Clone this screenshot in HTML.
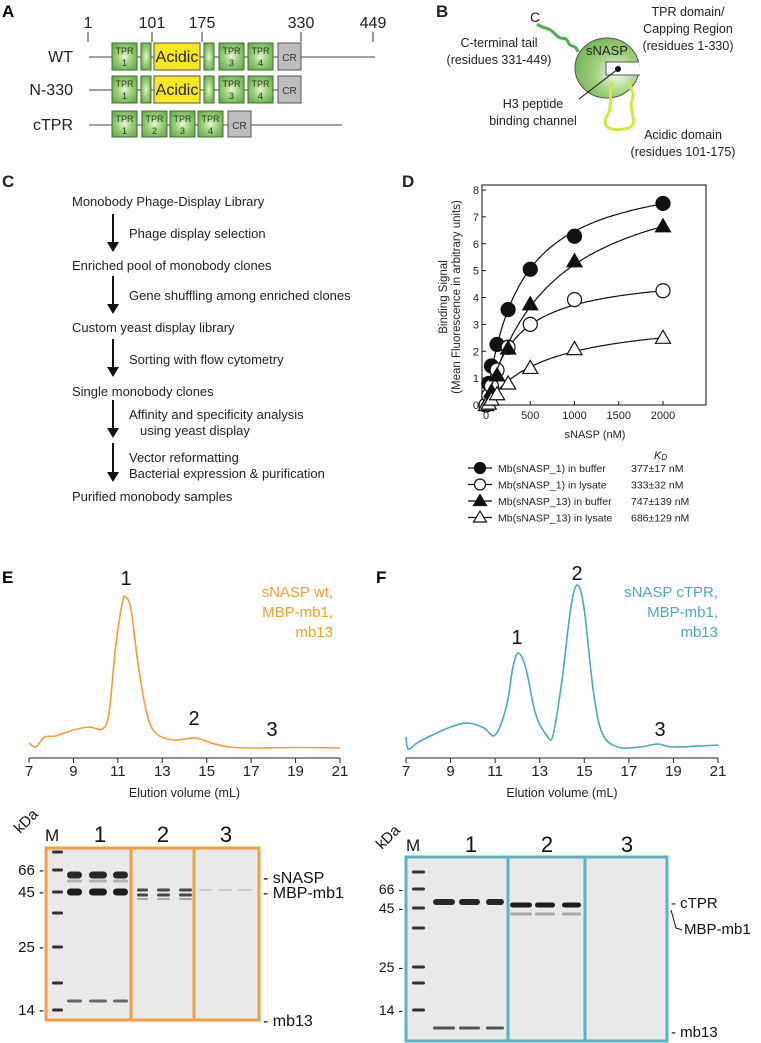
<!DOCTYPE html>
<html><head><meta charset="utf-8">
<style>
html,body{margin:0;padding:0;background:#fff;}
svg{display:block;font-family:"Liberation Sans",sans-serif;}
</style></head>
<body>
<svg id="fig" width="761" height="1043" viewBox="0 0 761 1043" xmlns="http://www.w3.org/2000/svg">
<defs>
<radialGradient id="gTpr" cx="0.5" cy="0.5" r="0.6"><stop offset="0" stop-color="#e8f5d8"/><stop offset="0.5" stop-color="#9ccf7a"/><stop offset="1" stop-color="#6aae4e"/></radialGradient>
<radialGradient id="gBall" cx="0.65" cy="0.6" r="0.7"><stop offset="0" stop-color="#f4faee"/><stop offset="0.5" stop-color="#9fd07c"/><stop offset="1" stop-color="#72b356"/></radialGradient>
</defs>

<!-- Panel A -->
<g font-size="15">
<text x="2" y="17" font-weight="bold" font-size="17">A</text>
<g stroke="#333" stroke-width="1">
<line x1="88" y1="32" x2="88" y2="42"/><line x1="152" y1="32" x2="152" y2="42"/><line x1="202" y1="32" x2="202" y2="42"/><line x1="301" y1="32" x2="301" y2="42"/><line x1="373" y1="32" x2="373" y2="42"/>
</g>
<g font-size="16" text-anchor="middle" fill="#222">
<text x="88" y="28">1</text><text x="152" y="28">101</text><text x="202" y="28">175</text><text x="301" y="28">330</text><text x="373" y="28">449</text>
</g>
<g text-anchor="end" font-size="16" fill="#222">
<text x="73" y="62">WT</text>
<text x="73" y="95">N-330</text>
<text x="73" y="130">cTPR</text>
</g>
<g stroke="#444" stroke-width="1">
<line x1="89" y1="57" x2="375" y2="57"/><line x1="89" y1="90" x2="278" y2="90"/><line x1="89" y1="125" x2="342" y2="125"/>
</g>
<g id="domains"></g>
</g>

<!-- Panel B -->
<g font-size="12.5" fill="#222">
<text x="436" y="17" font-weight="bold" font-size="17">B</text>
<text x="530" y="22" font-size="14">C</text>
<path d="M537 24 C545 30,548 26,555 34 S565 35,568 42 S575 43,578 52" fill="none" stroke="#4caf50" stroke-width="3"/>
<ellipse cx="607" cy="68" rx="32" ry="30" fill="url(#gBall)" stroke="#555" stroke-width="1"/>
<path d="M639 62 L606 62 L606 75 L640 75" fill="#fff" stroke="#555" stroke-width="1"/>
<circle cx="618" cy="69" r="3" fill="#111"/>
<line x1="618" y1="69" x2="579" y2="99" stroke="#111" stroke-width="1"/>
<path d="M612 82 C608 95,614 105,606 118 C602 128,612 132,628 128 C640 125,628 110,632 100 C636 92,628 88,630 82" fill="none" stroke="#d4e83a" stroke-width="3"/>
<text x="607" y="55" text-anchor="middle" font-size="13">sNASP</text>
<g text-anchor="middle">
<text x="499" y="47">C-terminal tail</text><text x="499" y="64">(residues 331-449)</text>
<text x="688" y="16">TPR domain/</text><text x="688" y="33">Capping Region</text><text x="688" y="50">(residues 1-330)</text>
<text x="533" y="108">H3 peptide</text><text x="533" y="125">binding channel</text>
<text x="683" y="139">Acidic domain</text><text x="683" y="156">(residues 101-175)</text>
</g>
</g>

<!-- Panel C -->
<g font-size="13" fill="#222">
<text x="2" y="187" font-weight="bold" font-size="17">C</text>
<g id="flow"></g>
</g>

<!-- Panel D -->
<g fill="#222">
<text x="402" y="187" font-weight="bold" font-size="17">D</text>
<rect x="482" y="185" width="224" height="220" fill="none" stroke="#111" stroke-width="1"/>
<g id="dAxes" font-size="11"></g>
<g id="dSeries"></g>
<text x="595" y="438" text-anchor="middle" font-size="11">sNASP (nM)</text>
<text transform="translate(447,297) rotate(-90)" text-anchor="middle" font-size="11.5">Binding Signal</text>
<text transform="translate(460,297) rotate(-90)" text-anchor="middle" font-size="11.5">(Mean Fluorescence  in arbitrary units)</text>
<text x="654" y="459" font-size="11" font-style="italic">K<tspan font-size="8" dy="1">D</tspan></text>
<g id="dLegend" font-size="10.5"></g>
</g>

<!-- Panel E chromatogram -->
<g>
<text x="2" y="583" font-weight="bold" font-size="17">E</text>
<g id="eChart"></g>
<g text-anchor="end" fill="#f0a030" font-size="15">
<text x="333" y="597">sNASP wt,</text><text x="333" y="617">MBP-mb1,</text><text x="333" y="637">mb13</text>
</g>
<g font-size="20" text-anchor="middle" fill="#111">
<text x="126" y="585">1</text><text x="194" y="725">2</text><text x="272" y="736">3</text>
</g>
</g>

<!-- Panel F chromatogram -->
<g>
<text x="376" y="583" font-weight="bold" font-size="17">F</text>
<g id="fChart"></g>
<g text-anchor="end" fill="#4aaab8" font-size="15">
<text x="718" y="597">sNASP cTPR,</text><text x="718" y="617">MBP-mb1,</text><text x="718" y="637">mb13</text>
</g>
<g font-size="20" text-anchor="middle" fill="#111">
<text x="517" y="644">1</text><text x="577" y="580">2</text><text x="660" y="736">3</text>
</g>
</g>

<!-- Gel E -->
<g font-size="14" fill="#111">
<text transform="translate(20,834) rotate(-45)" font-size="15">kDa</text>
<text x="45" y="841" font-size="17">M</text>
<text x="100" y="842" font-size="22" text-anchor="middle">1</text><text x="163" y="842" font-size="22" text-anchor="middle">2</text><text x="226" y="842" font-size="22" text-anchor="middle">3</text>
<rect x="46" y="848" width="213" height="172" fill="#e9e9e9"/>
<g id="gelE"></g>
<rect x="46" y="848" width="213" height="172" fill="none" stroke="#f0a040" stroke-width="3"/>
<line x1="131" y1="848" x2="131" y2="1020" stroke="#f0a040" stroke-width="3"/>
<line x1="194" y1="848" x2="194" y2="1020" stroke="#f0a040" stroke-width="3"/>
<g text-anchor="end" font-size="15"><text x="44" y="875">66 -</text><text x="44" y="897">45 -</text><text x="44" y="952">25 -</text><text x="44" y="1015">14 -</text></g>
<g font-size="16"><text x="263" y="883">- sNASP</text><text x="263" y="898">- MBP-mb1</text><text x="263" y="1026">- mb13</text></g>
</g>

<!-- Gel F -->
<g font-size="14" fill="#111">
<text transform="translate(382,850) rotate(-45)" font-size="15">kDa</text>
<text x="406" y="851" font-size="17">M</text>
<text x="471" y="852" font-size="22" text-anchor="middle">1</text><text x="547" y="852" font-size="22" text-anchor="middle">2</text><text x="627" y="852" font-size="22" text-anchor="middle">3</text>
<rect x="406" y="857" width="261" height="184" fill="#e9e9e9"/>
<g id="gelF"></g>
<rect x="406" y="857" width="261" height="184" fill="none" stroke="#5ab4c4" stroke-width="3"/>
<line x1="508" y1="857" x2="508" y2="1041" stroke="#5ab4c4" stroke-width="3"/>
<line x1="585" y1="857" x2="585" y2="1041" stroke="#5ab4c4" stroke-width="3"/>
<g text-anchor="end"><text x="403" y="894">66 -</text><text x="403" y="913">45 -</text><text x="403" y="972">25 -</text><text x="403" y="1015">14 -</text></g>
<g font-size="15"><text x="671" y="908">- cTPR</text>
<polyline points="671,910 676,928 682,930" fill="none" stroke="#111" stroke-width="1"/>
<text x="684" y="934">MBP-mb1</text>
<text x="671" y="1037">- mb13</text></g>
</g>
</svg>

<script>
// ---- Panel D data ----
const conc = [0, 31, 62, 125, 250, 500, 1000, 2000];
const buf1 = [0, 0.8, 1.45, 2.25, 3.55, 5.05, 6.28, 7.5];
const lys1 = [0, 0.35, 0.7, 1.3, 2.15, 3.0, 3.92, 4.25];
const buf13 = [0, 0.2, 0.5, 1.1, 2.1, 3.75, 5.35, 6.65];
const lys13 = [0, 0.05, 0.2, 0.4, 0.8, 1.38, 2.08, 2.5];
const kdValues = [377, 333, 747, 686];
const bmaxValues = [8.9, 4.96, 9.13, 3.36];
const seriesNames = ["Mb(sNASP_1) in buffer", "Mb(sNASP_1) in lysate", "Mb(sNASP_13) in buffer", "Mb(sNASP_13) in lysate"];
const kdLabels = ["377\u00b117 nM", "333\u00b132 nM", "747\u00b1139 nM", "686\u00b1129 nM"];
const xTicksD = [0, 500, 1000, 1500, 2000];
const yTicksD = [0, 1, 2, 3, 4, 5, 6, 7, 8];

// ---- Chromatogram data (volume mL, absorbance arbitrary) ----
const eVol = [7.0, 7.3, 7.7, 8.2, 9.0, 9.7, 10.3, 10.6, 10.9, 11.2, 11.35, 11.6, 11.9, 12.3, 12.7, 13.5, 14.5, 15.2, 16, 17, 19, 21];
const eAbs = [5, 1, 11, 12, 18, 21, 19, 35, 101, 145, 151, 138, 85, 35, 15, 8, 10, 5, 1, 0, 0.5, 0];
const fVol = [7.0, 7.1, 7.5, 8, 9, 9.8, 10.5, 11, 11.5, 11.8, 12.05, 12.4, 12.8, 13.3, 13.6, 14, 14.4, 14.7, 15, 15.4, 15.8, 16.5, 17.5, 18.3, 19, 21];
const fAbs = [12, 0, 6, 12, 22, 26, 21, 14, 42, 82, 96, 79, 36, 14, 14, 69, 142, 164, 139, 59, 16, 2, 2, 5, 2, 4];
const volTicks = [7, 9, 11, 13, 15, 17, 19, 21];

const NS = "http://www.w3.org/2000/svg";
function mk(tag, attrs, parent) {
  const el = document.createElementNS(NS, tag);
  for (const k in attrs) el.setAttribute(k, attrs[k]);
  if (parent) parent.appendChild(el);
  return el;
}

// ---- Panel A domains ----
(function(){
  const g = document.getElementById('domains');
  const rows = [
    {y:43, h:27, boxes:[["tpr",112,25,"1"],["s",141,10],["acid",154,46],["s",204,10],["tpr",219,25,"3"],["tpr",248,25,"4"],["cr",278,23]]},
    {y:76, h:27, boxes:[["tpr",112,25,"1"],["s",141,10],["acid",154,46],["s",204,10],["tpr",219,25,"3"],["tpr",248,25,"4"],["cr",278,23]]},
    {y:111, h:26, boxes:[["tpr",112,25,"1"],["tpr",142,25,"2"],["tpr",170,25,"3"],["tpr",198,25,"4"],["cr",228,23]]}
  ];
  rows.forEach(r => r.boxes.forEach(b => {
    const t=b[0], x=b[1], w=b[2];
    if (t==="tpr"||t==="s") {
      const rc = mk('rect',{x:x,y:r.y,width:w,height:r.h,fill:'url(#gTpr)',stroke:'#3f6e2e','stroke-width':1},g);
      
      
      if (t==="tpr") {
        const a = mk('text',{x:x+w/2,y:r.y+11,'text-anchor':'middle','font-size':9,fill:'#1a3a10'},g); a.textContent='TPR';
        const b2 = mk('text',{x:x+w/2,y:r.y+23,'text-anchor':'middle','font-size':9,fill:'#1a3a10'},g); b2.textContent=b[3];
      }
    } else if (t==="acid") {
      const rc = mk('rect',{x:x,y:r.y,width:w,height:r.h,fill:'#f6e81e',stroke:'#555','stroke-width':1},g);
      
      
      const tx = mk('text',{x:x+w/2,y:r.y+19,'text-anchor':'middle','font-size':16,fill:'#222'},g); tx.textContent='Acidic';
    } else {
      const rc = mk('rect',{x:x,y:r.y,width:w,height:r.h,fill:'#bdbdbd',stroke:'#555','stroke-width':1},g);
      
      
      const tx = mk('text',{x:x+w/2,y:r.y+18,'text-anchor':'middle','font-size':10,fill:'#333'},g); tx.textContent='CR';
    }
  }));
})();

// ---- Panel C flow ----
(function(){
  const g = document.getElementById('flow');
  const steps = [["Monobody Phage-Display Library",206],["Enriched pool of monobody clones",270],["Custom yeast display library",332],["Single monobody clones",396],["Purified monobody samples",501]];
  steps.forEach(s => { const t = mk('text',{x:72,y:s[1]},g); t.textContent=s[0];
      });
  const notes = [["Phage display selection",129,238],["Gene shuffling among enriched clones",129,300],["Sorting with flow cytometry",129,364],["Affinity and specificity analysis",129,419],["using yeast display",140,435],["Vector reformatting",129,462],["Bacterial expression & purification",129,478]];
  notes.forEach(n => { const t = mk('text',{x:n[1],y:n[2]},g); t.textContent=n[0]; });
  const arrows = [[214,252],[276,314],[339,377],[400,438],[443,482]];
  arrows.forEach(a => {
    const l = mk('line',{x1:113,y1:a[0],x2:113,y2:a[1]-8,stroke:'#111','stroke-width':2},g);
     
    mk('path',{d:`M107 ${a[1]-10} L119 ${a[1]-10} L113 ${a[1]} Z`,fill:'#111'},g);
  });
})();

// ---- Panel D chart ----
(function(){
  const X = v => 486 + v * (663 - 486) / 2000;
  const Y = v => 405 - v * (405 - 190) / 8;
  const ax = document.getElementById('dAxes');
  xTicksD.forEach(t => { mk('line',{x1:X(t),y1:405,x2:X(t),y2:401,stroke:'#111'},ax);
    const tx = mk('text',{x:X(t),y:419,'text-anchor':'middle'},ax); tx.textContent=t;
      });
  yTicksD.forEach(t => { mk('line',{x1:482,y1:Y(t),x2:486,y2:Y(t),stroke:'#111'},ax);
    const tx = mk('text',{x:479,y:Y(t)+4,'text-anchor':'end'},ax); tx.textContent=t;
      });
  const gs = document.getElementById('dSeries');
  const all = [buf1, lys1, buf13, lys13];
  const kinds = [['circle',true],['circle',false],['tri',true],['tri',false]];
  function marker(g, kind, fill, x, y, s) {
    let el;
    if (kind==='circle') el = mk('circle',{cx:x,cy:y,r:s,fill:fill?'#111':'#fff',stroke:'#111','stroke-width':1.2},g);
    else el = mk('path',{d:`M${x} ${y-s-1} L${x+s+1} ${y+s-1} L${x-s-1} ${y+s-1} Z`,fill:fill?'#111':'#fff',stroke:'#111','stroke-width':1.2},g);
    return el;
  }
  all.forEach((vals, i) => {
    let d = '';
    for (let c = 0; c <= 2000; c += 20) {
      const v = bmaxValues[i] * c / (kdValues[i] + c);
      d += (c===0?'M':'L') + X(c).toFixed(1) + ' ' + Y(v).toFixed(1) + ' ';
    }
    const p = mk('path',{d:d,fill:'none',stroke:'#111','stroke-width':1.2},gs);
    
    
    vals.forEach((v, j) => {
      const size = kinds[i][0]==='circle' ? 7 : 6.5;
      const m = marker(gs, kinds[i][0], kinds[i][1], X(conc[j]), Y(v), size);
      
      
    });
  });
  const lg = document.getElementById('dLegend');
  seriesNames.forEach((n, i) => {
    const y = 468 + i * 16.5;
    mk('line',{x1:468,y1:y,x2:492,y2:y,stroke:'#111','stroke-width':1.2},lg);
    const m = marker(lg, kinds[i][0], kinds[i][1], 480, y, 5.5);
    
    
    const t = mk('text',{x:498,y:y+4},lg); t.textContent = n;
    const k = mk('text',{x:631,y:y+4},lg); k.textContent = kdLabels[i];
  });
})();

// ---- Chromatograms ----
function smoothPath(pts) {
  let d = `M${pts[0][0].toFixed(1)} ${pts[0][1].toFixed(1)}`;
  for (let i = 0; i < pts.length - 1; i++) {
    const p0 = pts[i-1] || pts[i], p1 = pts[i], p2 = pts[i+1], p3 = pts[i+2] || p2;
    const c1x = p1[0] + (p2[0]-p0[0])/6, c1y = p1[1] + (p2[1]-p0[1])/6;
    const c2x = p2[0] - (p3[0]-p1[0])/6, c2y = p2[1] - (p3[1]-p1[1])/6;
    d += ` C${c1x.toFixed(1)} ${c1y.toFixed(1)},${c2x.toFixed(1)} ${c2y.toFixed(1)},${p2[0].toFixed(1)} ${p2[1].toFixed(1)}`;
  }
  return d;
}
function chrom(id, x0, x1, base, vol, abs, color, name) {
  const g = document.getElementById(id);
  const X = v => x0 + (v - 7) * (x1 - x0) / 14;
  const Y = a => base - a;
  const axisY = 758;
  mk('line',{x1:x0,y1:axisY,x2:x1,y2:axisY,stroke:'#222','stroke-width':1},g);
  volTicks.forEach(t => {
    mk('line',{x1:X(t),y1:axisY,x2:X(t),y2:axisY+5,stroke:'#222'},g);
    const tx = mk('text',{x:X(t),y:776,'text-anchor':'middle','font-size':15,fill:'#222'},g);
    tx.textContent = t;
    
    
  });
  const xl = mk('text',{x:(x0+x1)/2,y:797,'text-anchor':'middle','font-size':12.5,fill:'#222'},g);
  xl.textContent = 'Elution volume (mL)';
  const pts = vol.map((v,i) => [X(v), Y(abs[i])]);
  const p = mk('path',{d:smoothPath(pts),fill:'none',stroke:color,'stroke-width':1.6},g);
  
  
}
chrom('eChart', 29, 340, 748, eVol, eAbs, '#f0a030', 'trace-wt');
chrom('fChart', 406, 718, 749, fVol, fAbs, '#4aaab8', 'trace-ctpr');

// ---- Gels ----
function band(g, x1, x2, y, h, op) {
  const r = mk('rect',{x:x1,y:y-h/2,width:x2-x1,height:h,rx:h/2,fill:'#111','fill-opacity':op},g);
  
  
}
(function(){
  const g = document.getElementById('gelE');
  [852,870,892,913,947,983,1010].forEach(y => band(g,52,63,y,3,0.85));
  [[67,82],[89,107],[113,128]].forEach(l => { band(g,l[0],l[1],875,7,0.9); band(g,l[0],l[1],892,7,0.95); band(g,l[0],l[1],881,3,0.25); band(g,l[0],l[1],1001,3,0.6); });
  [[137,148],[157,170],[179,192]].forEach(l => { band(g,l[0],l[1],890,3,0.75); band(g,l[0],l[1],895,3,0.75); band(g,l[0],l[1],899,2,0.3); });
  [[199,212],[218,232],[238,252]].forEach(l => band(g,l[0],l[1],890,2,0.15));
  const gf = document.getElementById('gelF');
  [872,889,908,928,967,983,1010].forEach(y => band(gf,412,425,y,3,0.85));
  [[433,455],[459,480],[486,504]].forEach(l => { band(gf,l[0],l[1],902,6,0.9); band(gf,l[0],l[1],1028,3,0.7); });
  [[510,532],[535,555],[562,581]].forEach(l => { band(gf,l[0],l[1],905,5,0.95); band(gf,l[0],l[1],914,3,0.3); });
})();
</script>
</body></html>
